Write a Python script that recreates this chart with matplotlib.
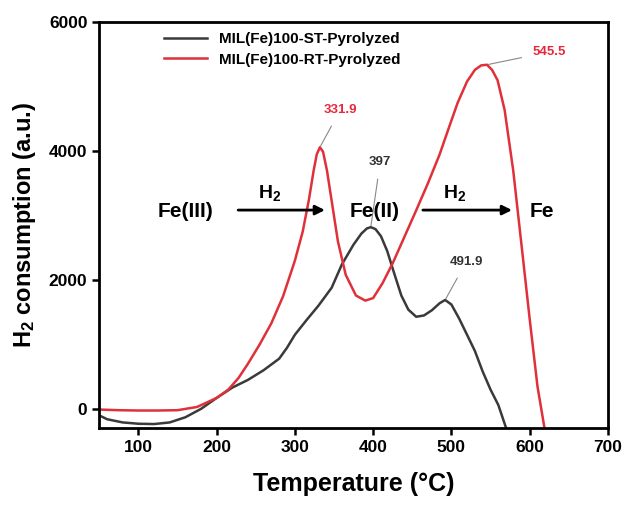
import matplotlib
matplotlib.use('Agg')
import matplotlib.pyplot as plt

plt.rcParams['font.family'] = ['Liberation Sans', 'DejaVu Sans']
plt.rcParams['font.weight'] = 'bold'
plt.rcParams['mathtext.fontset'] = 'custom'
plt.rcParams['mathtext.bf'] = 'Liberation Sans:bold'
plt.rcParams['mathtext.rm'] = 'Liberation Sans:bold'
plt.rcParams['mathtext.default'] = 'bf'

# ST sample (black)
st_temp = [50, 60, 80, 100, 120, 140, 160, 180, 200, 220, 240, 260, 280, 290,
           300, 315, 330, 347, 360, 375, 385, 392, 397, 403, 410, 418, 427, 436, 445,
           455, 465, 475, 485, 492, 500, 510, 520, 530, 540, 550, 560, 570]
st_h2 = [-100, -160, -210, -230, -235, -210, -130, 0, 170, 330, 450, 600, 780, 950,
         1150, 1380, 1600, 1880, 2240, 2550, 2720, 2800, 2820, 2790, 2680, 2450, 2100, 1760, 1540,
         1430, 1450, 1530, 1640, 1690, 1620, 1400, 1150, 900, 580, 300, 60, -300]

# RT sample (red)
rt_temp = [50, 75, 100, 125, 150, 175, 200, 215, 228, 240, 255, 270, 285, 300, 310, 318,
           324, 328, 332, 336, 341, 348, 355, 365, 378, 390, 400, 412, 425, 440, 455, 470,
           485, 497, 508, 520, 530, 538, 545.5, 552, 559, 568, 579, 590, 600, 610, 619]
rt_h2 = [-10, -20, -25, -25, -20, 30, 170, 300, 480, 700, 1000, 1330, 1750, 2300, 2750, 3250,
         3700, 3950, 4060, 3990, 3700, 3150, 2600, 2080, 1760, 1680, 1720, 1950, 2260, 2670, 3080, 3500,
         3950, 4370, 4750, 5080, 5260, 5330, 5340, 5260, 5100, 4640, 3700, 2500, 1400, 350, -300]

# peak labels: (text, peak x, peak y, label x, label y, colour)
peaks = [('331.9', 332, 4060, 358, 4640, '#e8283a'),
         ('397', 397, 2820, 409, 3830, '#333333'),
         ('491.9', 492, 1690, 519, 2280, '#333333'),
         ('545.5', 545.5, 5340, 625, 5540, '#e8283a')]

fig = plt.figure(figsize=(6.28, 5.05), dpi=100)
ax = fig.add_axes([0.158, 0.152, 0.81, 0.804])

ax.plot(st_temp, st_h2, color='#3a3a3a', lw=1.8, label='MIL(Fe)100-ST-Pyrolyzed')
ax.plot(rt_temp, rt_h2, color='#e0303a', lw=1.8, label='MIL(Fe)100-RT-Pyrolyzed')

for txt, px, py, tx, ty, c in peaks:
    ax.annotate(txt, xy=(px, py), xytext=(tx, ty), color=c, fontsize=9.5,
                fontweight='bold', ha='center', va='center',
                arrowprops=dict(arrowstyle='-', color='#888888', lw=0.8,
                                shrinkA=6, shrinkB=1))

# reaction scheme
ax.text(160, 3060, 'Fe(III)', fontsize=15, fontweight='bold', ha='center', va='center')
ax.text(402, 3060, 'Fe(II)', fontsize=15, fontweight='bold', ha='center', va='center')
ax.text(616, 3060, 'Fe', fontsize=15, fontweight='bold', ha='center', va='center')
ax.text(268, 3350, r'H$_2$', fontsize=14, ha='center', va='center')
ax.text(504, 3350, r'H$_2$', fontsize=14, ha='center', va='center')
ax.annotate('', xy=(342, 3085), xytext=(224, 3085),
            arrowprops=dict(arrowstyle='-|>', color='black', lw=2, mutation_scale=14))
ax.annotate('', xy=(581, 3085), xytext=(460, 3085),
            arrowprops=dict(arrowstyle='-|>', color='black', lw=2, mutation_scale=14))

ax.set_xlim(50, 700)
ax.set_ylim(-300, 6000)
ax.set_xticks([100, 200, 300, 400, 500, 600, 700])
ax.set_yticks([0, 2000, 4000, 6000])
ax.tick_params(labelsize=12.5, width=1.8, length=5, direction='out')
for s in ax.spines.values():
    s.set_linewidth(2)

ax.set_xlabel('Temperature (°C)', fontsize=18, fontweight='bold', labelpad=12)
ax.set_ylabel(r'H$_2$ consumption (a.u.)', fontsize=17, fontweight='bold', labelpad=8)

ax.legend(loc='upper left', bbox_to_anchor=(0.10, 1.01), frameon=False,
          prop={'size': 11, 'weight': 'bold'}, handlelength=2.8, labelspacing=0.45)

plt.savefig('out.png', dpi=100)
